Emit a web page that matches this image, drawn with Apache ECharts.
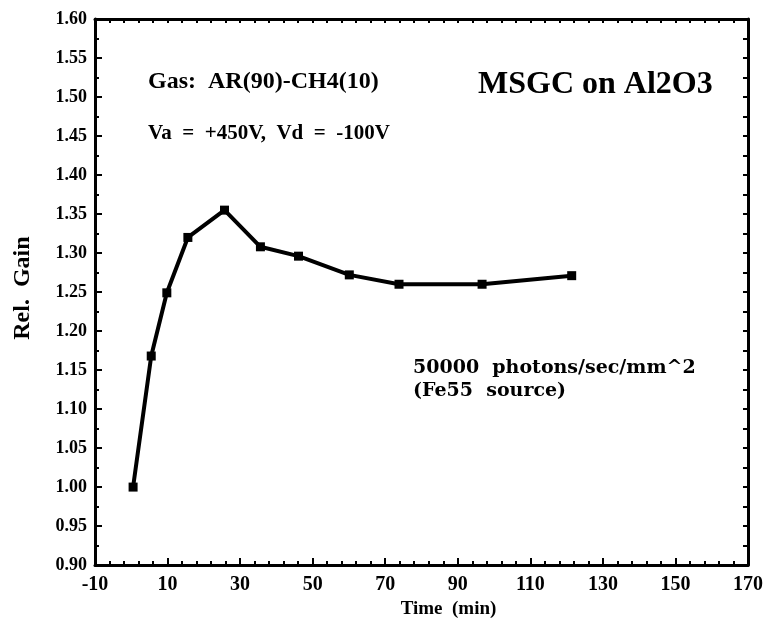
<!DOCTYPE html>
<html>
<head>
<meta charset="utf-8">
<script src="https://cdn.jsdelivr.net/npm/echarts@6/dist/echarts.min.js"></script>
<style>
html,body{margin:0;padding:0;background:#fff;}
#main{width:766px;height:624px;}
</style>
</head>
<body>
<div id="main"></div>
<script>
// data
var timeMin = [0.5, 5.5, 9.8, 15.6, 25.7, 35.6, 46.1, 60.1, 73.8, 96.7, 121.4];
var relGain = [1.00, 1.168, 1.249, 1.320, 1.355, 1.308, 1.296, 1.272, 1.260, 1.260, 1.271];
var xLabels = [-10, 10, 30, 50, 70, 90, 110, 130, 150, 170];
var xMinor = [];
for (var v = -10; v <= 170; v += 4) { xMinor.push(v); }

var serif = '"Liberation Serif", "DejaVu Serif", serif';
var wide = '"DejaVu Serif", "Liberation Serif", serif';

var chart = echarts.init(document.getElementById('main'));
var points = [];
for (var i = 0; i < timeMin.length; i++) {
	points.push([timeMin[i], relGain[i]]);
}

option = {
	backgroundColor: '#fff',
	animation: false,
	grid: {
		left: 95,
		right: 16,
		top: 19,
		bottom: 58
	},
	xAxis: [
		{
			type: 'value',
			position: 'bottom',
			min: -10,
			max: 170,
			name: 'Time  (min)',
			nameLocation: 'middle',
			nameGap: 34,
			nameTextStyle: {
				color: '#000',
				fontFamily: serif,
				fontWeight: 'bold',
				fontSize: 19,
				padding: [0, 0, 0, 54]
			},
			splitLine: { show: false },
			axisLine: { onZero: false, lineStyle: { color: '#000', width: 3 } },
			axisTick: {
				inside: true,
				length: 7,
				lineStyle: { color: '#000', width: 2 },
				customValues: xLabels
			},
			axisLabel: {
				color: '#000',
				fontFamily: serif,
				fontWeight: 'bold',
				fontSize: 20,
				margin: 10,
				customValues: xLabels
			}
		},
		{
			// minor ticks on the bottom
			type: 'value',
			position: 'bottom',
			min: -10,
			max: 170,
			splitLine: { show: false },
			axisLine: { show: false, onZero: false },
			axisLabel: { show: false },
			axisTick: {
				inside: true,
				length: 4,
				lineStyle: { color: '#000', width: 2 },
				customValues: xMinor
			}
		},
		{
			// top frame
			type: 'value',
			position: 'top',
			min: -10,
			max: 170,
			splitLine: { show: false },
			axisLine: { onZero: false, lineStyle: { color: '#000', width: 3 } },
			axisLabel: { show: false },
			axisTick: {
				inside: true,
				length: 4,
				lineStyle: { color: '#000', width: 2 },
				customValues: xMinor
			}
		}
	],
	yAxis: [
		{
			type: 'value',
			position: 'left',
			min: 0.9,
			max: 1.6,
			interval: 0.05,
			name: 'Rel.  Gain',
			nameLocation: 'middle',
			nameGap: 60,
			nameTextStyle: {
				color: '#000',
				fontFamily: serif,
				fontWeight: 'bold',
				fontSize: 24,
				padding: [0, 0, 0, 8]
			},
			splitLine: { show: false },
			axisLine: { onZero: false, lineStyle: { color: '#000', width: 3 } },
			axisTick: {
				inside: true,
				length: 7,
				lineStyle: { color: '#000', width: 2 }
			},
			minorTick: {
				show: true,
				splitNumber: 2,
				length: 4,
				lineStyle: { color: '#000', width: 2 }
			},
			axisLabel: {
				color: '#000',
				fontFamily: serif,
				fontWeight: 'bold',
				fontSize: 18,
				margin: 8,
				formatter: function(val) { return val.toFixed(2); }
			}
		},
		{
			// right frame
			type: 'value',
			position: 'right',
			min: 0.9,
			max: 1.6,
			interval: 0.05,
			splitLine: { show: false },
			axisLine: { onZero: false, lineStyle: { color: '#000', width: 3 } },
			axisLabel: { show: false },
			axisTick: {
				inside: true,
				length: 5,
				lineStyle: { color: '#000', width: 2 }
			},
			minorTick: {
				show: true,
				splitNumber: 2,
				length: 5,
				lineStyle: { color: '#000', width: 2 }
			}
		}
	],
	graphic: [
		{
			type: 'text', left: 148, top: 70,
			style: { text: 'Gas:  AR(90)-CH4(10)', fill: '#000', font: 'bold 24px ' + serif }
		},
		{
			type: 'text', left: 148, top: 123,
			style: { text: 'Va  =  +450V,  Vd  =  -100V', fill: '#000', font: 'bold 21px ' + serif }
		},
		{
			type: 'text', left: 478, top: 69,
			style: { text: 'MSGC on Al2O3', fill: '#000', font: 'bold 32px ' + serif }
		},
		{
			type: 'text', left: 413, top: 359,
			style: { text: '50000  photons/sec/mm^2', fill: '#000', font: 'bold 19px ' + wide }
		},
		{
			type: 'text', left: 413, top: 382,
			style: { text: '(Fe55  source)', fill: '#000', font: 'bold 19px ' + wide }
		}
	],
	series: [
		{
			name: 'Rel. Gain',
			type: 'line',
			data: points,
			symbol: 'rect',
			symbolSize: 9,
			lineStyle: { color: '#000', width: 4 },
			itemStyle: { color: '#000' }
		}
	]
};
chart.setOption(option);
</script>
</body>
</html>
